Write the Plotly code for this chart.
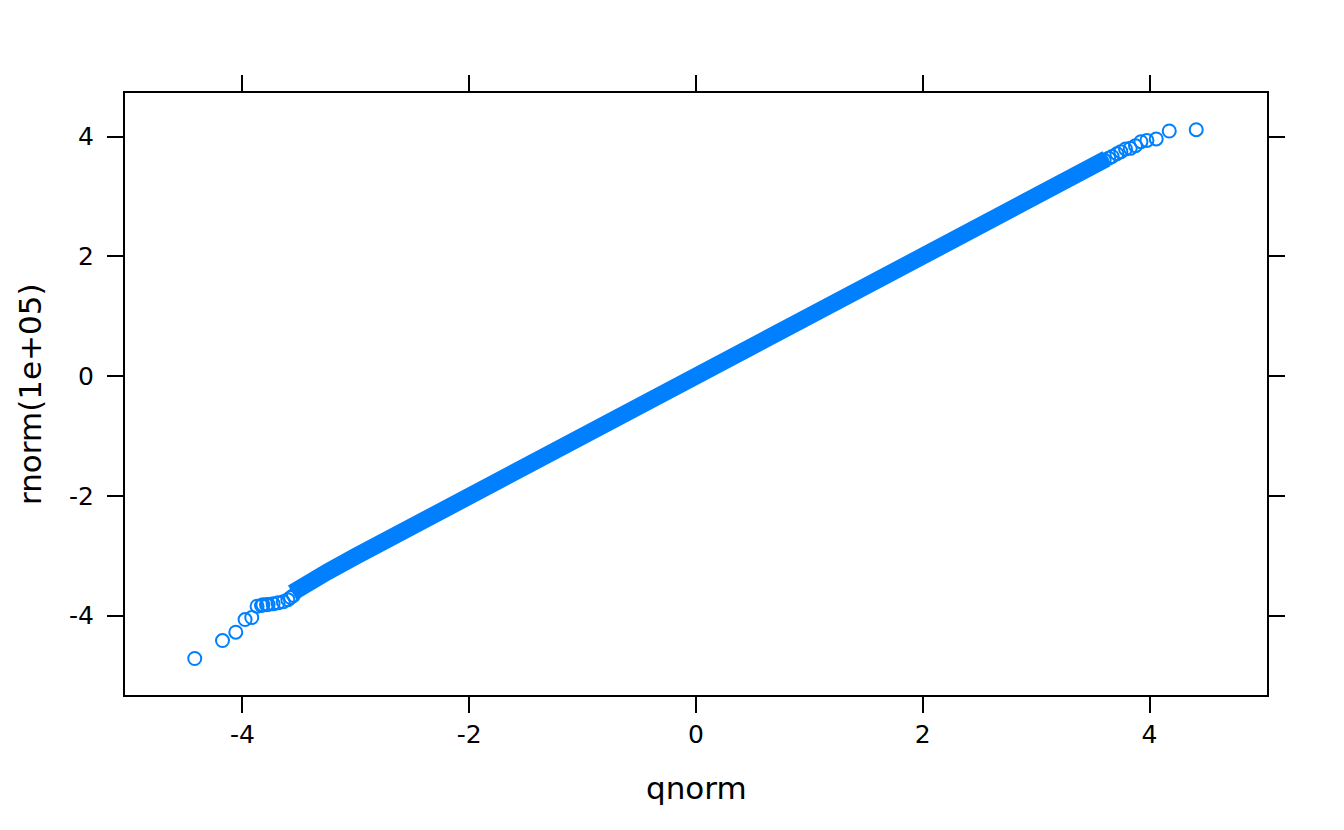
import plotly.graph_objects as go

# (theoretical quantile, sample value)
tail_low_q = [-4.421, -4.176, -4.059, -3.977, -3.918, -3.871, -3.832, -3.820, -3.788, -3.774, -3.730,
              -3.686, -3.640, -3.600, -3.575, -3.550]
tail_low_s = [-4.718, -4.418, -4.279, -4.067, -4.033, -3.845, -3.833, -3.820, -3.821, -3.816, -3.805,
              -3.788, -3.770, -3.735, -3.700, -3.665]

dense_q = [-3.56, -3.50, -3.25, -3.00, -2.75, -2.50, -2.25, -2.00, -1.50, -1.00, -0.50, 0.00,
           0.50, 1.00, 1.50, 2.00, 2.25, 2.50, 2.75, 3.00, 3.25, 3.50, 3.62]
dense_s = [-3.62, -3.54, -3.27, -3.01, -2.76, -2.51, -2.25, -2.00, -1.50, -1.00, -0.50, 0.00,
           0.50, 1.00, 1.50, 2.00, 2.25, 2.50, 2.76, 3.01, 3.26, 3.51, 3.63]

tail_high_q = [3.580, 3.600, 3.640, 3.670, 3.712, 3.747, 3.788, 3.830, 3.876, 3.924, 3.977, 4.059, 4.174, 4.412]
tail_high_s = [3.590, 3.610, 3.640, 3.670, 3.716, 3.750, 3.795, 3.805, 3.850, 3.916, 3.938, 3.962, 4.095, 4.117]

tick_vals = [-4, -2, 0, 2, 4]
tick_text = ["-4", "-2", "0", "2", "4"]

COL = "#0080FF"
FONT = "DejaVu Sans"

fig = go.Figure()
fig.add_trace(go.Scatter(x=dense_q, y=dense_s, mode="lines",
                         line=dict(color=COL, width=17), hoverinfo="skip", showlegend=False))
marker = dict(symbol="circle-open", size=13, color=COL, line=dict(color=COL, width=2))
fig.add_trace(go.Scatter(x=tail_low_q, y=tail_low_s, mode="markers", marker=marker,
                         hoverinfo="skip", showlegend=False))
fig.add_trace(go.Scatter(x=tail_high_q, y=tail_high_s, mode="markers", marker=marker,
                         hoverinfo="skip", showlegend=False))

axis_common = dict(showgrid=False, zeroline=False, showline=True, linecolor="black", linewidth=2,
                   mirror="allticks", ticks="outside", ticklen=16, tickwidth=2, tickcolor="black",
                   tickvals=tick_vals, ticktext=tick_text,
                   tickfont=dict(family=FONT, size=25, color="black"))

fig.update_layout(
    width=1344, height=830,
    margin=dict(l=117, r=85, t=85, b=143, autoexpand=False),
    paper_bgcolor="white", plot_bgcolor="white",
    font=dict(family=FONT, color="black"),
    xaxis=dict(range=[-5.036, 5.036], **axis_common),
    yaxis=dict(range=[-5.328, 4.73], ticklabelstandoff=8, **axis_common),
    annotations=[
        dict(text="qnorm", xref="paper", yref="paper", x=0.5, y=0, yshift=-93,
             showarrow=False, font=dict(family=FONT, size=31, color="black"),
             xanchor="center", yanchor="middle"),
        dict(text="rnorm(1e+05)", xref="paper", yref="paper", x=0, y=0.5, xshift=-95,
             showarrow=False, textangle=-90, font=dict(family=FONT, size=31, color="black"),
             xanchor="center", yanchor="middle"),
    ],
)

fig.write_html("out.html", config={"displayModeBar": False})
